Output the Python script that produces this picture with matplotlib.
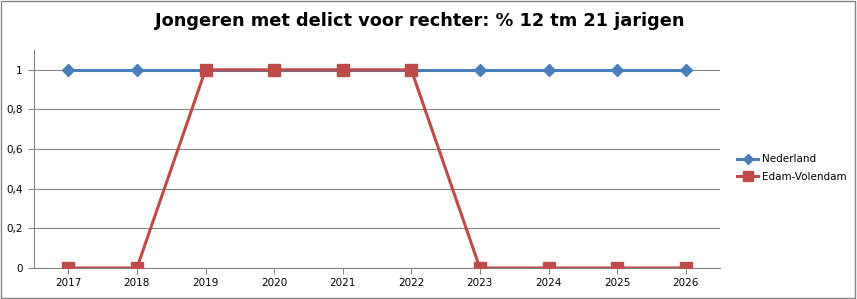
import matplotlib.pyplot as plt
from matplotlib.patches import Rectangle

years = ["2017", "2018", "2019", "2020", "2021", "2022", "2023", "2024", "2025", "2026"]
nederland = [1, 1, 1, 1, 1, 1, 1, 1, 1, 1]
edam_volendam = [0, 0, 1, 1, 1, 1, 0, 0, 0, 0]

fig = plt.figure(figsize=(8.57, 2.99), dpi=100)
ax = fig.add_axes([34 / 857, 1 - 268 / 299, (720 - 34) / 857, (268 - 50) / 299])

x = range(len(years))
ax.plot(x, nederland, color="#4a7ebb", lw=2.2, marker="D", ms=6, label="Nederland", zorder=3)
ax.plot(x, edam_volendam, color="#be4b48", lw=2.2, marker="s", ms=8, label="Edam-Volendam", zorder=4)

ax.set_xlim(-0.5, len(years) - 0.5)
ax.set_ylim(0, 1.1)
ax.set_xticks(list(x))
ax.set_xticklabels(years)
ax.set_yticks([0, 0.2, 0.4, 0.6, 0.8, 1])
ax.set_yticklabels(["0", "0,2", "0,4", "0,6", "0,8", "1"])
ax.yaxis.grid(True, color="#868686", lw=0.8)
ax.tick_params(axis="both", labelsize=7.5, color="#868686", length=4, width=0.8)
ax.tick_params(axis="y", pad=4)
for side in ["top", "right"]:
    ax.spines[side].set_visible(False)
for side in ["left", "bottom"]:
    ax.spines[side].set_color("#868686")
    ax.spines[side].set_linewidth(0.8)

fig.text(0.49, 0.93, "Jongeren met delict voor rechter: % 12 tm 21 jarigen",
         ha="center", va="center", fontsize=12.8, fontweight="bold")

ax.legend(loc="center left", bbox_to_anchor=(728 / 857, 1 - 168 / 299), bbox_transform=fig.transFigure,
          frameon=False, fontsize=7.5, handlelength=2, handletextpad=0.4, labelspacing=0.7,
          markerscale=0.9)

fig.patches.append(Rectangle((0.001, 0.002), 0.997, 0.995, transform=fig.transFigure,
                             fill=False, edgecolor="#868686", lw=1))

fig.savefig("out.png", dpi=100)
